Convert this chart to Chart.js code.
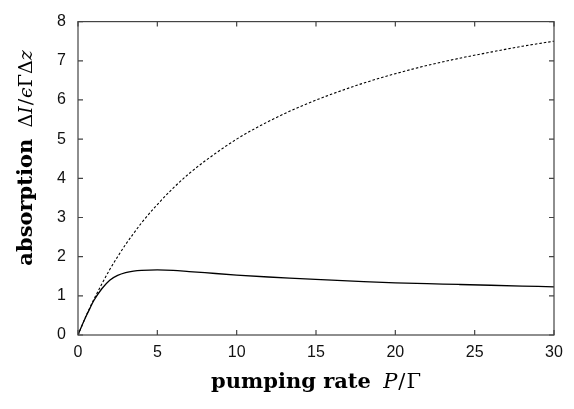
<!DOCTYPE html>
<html>
<head>
<meta charset="utf-8">
<script src="https://cdn.jsdelivr.net/npm/chart.js@4"></script>
<style>
html,body{margin:0;padding:0;background:#fff;}
#wrap{width:574px;height:409px;}
</style>
</head>
<body>
<div id="wrap"><canvas id="c" width="574" height="409"></canvas></div>
<script>
const pumpRate = [0,0.25,0.5,0.75,1,1.5,2,2.5,3,3.5,4,5,6,7,8,10,12,14,16,18,20,22,24,26,28,30];
const dashedSeries = [0,0.24,0.48,0.70,0.91,1.30,1.67,2.00,2.31,2.59,2.86,3.33,3.75,4.12,4.44,5.00,5.45,5.83,6.15,6.43,6.67,6.88,7.06,7.22,7.37,7.50];
const solidSeries  = [0,0.24,0.47,0.68,0.88,1.18,1.40,1.52,1.59,1.63,1.65,1.66,1.65,1.62,1.59,1.53,1.48,1.44,1.40,1.36,1.33,1.31,1.29,1.27,1.25,1.23];
const xTicks = [0,5,10,15,20,25,30];
const yTicks = [0,1,2,3,4,5,6,7,8];

const toPts = ys => pumpRate.map((x,i)=>({x:x,y:ys[i]}));

const frame = {
  id:'frame',
  afterDraw(chart){
    const ctx = chart.ctx, a = chart.chartArea;
    const xs = chart.scales.x, ys = chart.scales.y;
    ctx.save();
    ctx.strokeStyle = '#444';
    ctx.lineWidth = 1.2;
    ctx.strokeRect(a.left, a.top, a.right-a.left, a.bottom-a.top);
    ctx.beginPath();
    const L = 5;
    xTicks.forEach(v=>{
      const p = xs.getPixelForValue(v);
      ctx.moveTo(p, a.bottom); ctx.lineTo(p, a.bottom-L);
      ctx.moveTo(p, a.top); ctx.lineTo(p, a.top+L);
    });
    yTicks.forEach(v=>{
      const p = ys.getPixelForValue(v);
      ctx.moveTo(a.left, p); ctx.lineTo(a.left+L, p);
      ctx.moveTo(a.right, p); ctx.lineTo(a.right-L, p);
    });
    ctx.stroke();

    function drawSegs(segs, cx, baseline){
      let w = 0;
      segs.forEach(s=>{ctx.font=s[1]; w += ctx.measureText(s[0]).width + (s[2]||0);});
      let x = cx - w/2;
      ctx.fillStyle = '#000';
      ctx.textBaseline = 'alphabetic';
      ctx.textAlign = 'left';
      segs.forEach(s=>{ctx.font=s[1]; ctx.fillText(s[0], x, baseline); x += ctx.measureText(s[0]).width + (s[2]||0);});
    }
    const bold = 'bold 21px "DejaVu Serif"';
    const xi = 'italic 21px "DejaVu Serif"', xr = '21px "DejaVu Serif"';
    const midX = (a.left+a.right)/2;
    drawSegs([['pumping rate ',bold,5],['P',xi,1],['/',xr,1],['Γ',xr]], midX, 388);
    const yi = 'italic 19px "DejaVu Serif"', yr = '19px "DejaVu Serif"';
    ctx.translate(32, 158);
    ctx.rotate(-Math.PI/2);
    drawSegs([['absorption ',bold,4],['Δ',yr],['I',yi,1],['/',yr,1],['ϵ',yi],['ΓΔ',yr],['z',yi]], 0, 0);
    ctx.restore();
  }
};

new Chart(document.getElementById('c'), {
  type:'line',
  data:{
    datasets:[
      {label:'dashed', data:toPts(dashedSeries), borderColor:'#000', borderWidth:1.1, borderDash:[2.5,2], pointRadius:0, fill:false, cubicInterpolationMode:'monotone'},
      {label:'solid', data:toPts(solidSeries), borderColor:'#000', borderWidth:1.3, pointRadius:0, fill:false, cubicInterpolationMode:'monotone'}
    ]
  },
  options:{
    responsive:false,
    animation:false,
    layout:{padding:{left:0,right:20,top:15,bottom:0}},
    plugins:{legend:{display:false},tooltip:{enabled:false}},
    scales:{
      x:{type:'linear',min:0,max:30,
         afterBuildTicks:s=>{s.ticks = xTicks.map(v=>({value:v}));},
         afterFit:s=>{s.height=74;},
         grid:{display:false,drawTicks:false},
         border:{display:false},
         ticks:{padding:8,color:'#111',font:{family:'Liberation Sans',size:16},maxRotation:0}},
      y:{type:'linear',min:0,max:8,
         afterBuildTicks:s=>{s.ticks = yTicks.map(v=>({value:v}));},
         afterFit:s=>{s.width=78;},
         grid:{display:false,drawTicks:false},
         border:{display:false},
         ticks:{padding:12,color:'#111',font:{family:'Liberation Sans',size:16}}}
    }
  },
  plugins:[frame]
});
</script>
</body>
</html>
